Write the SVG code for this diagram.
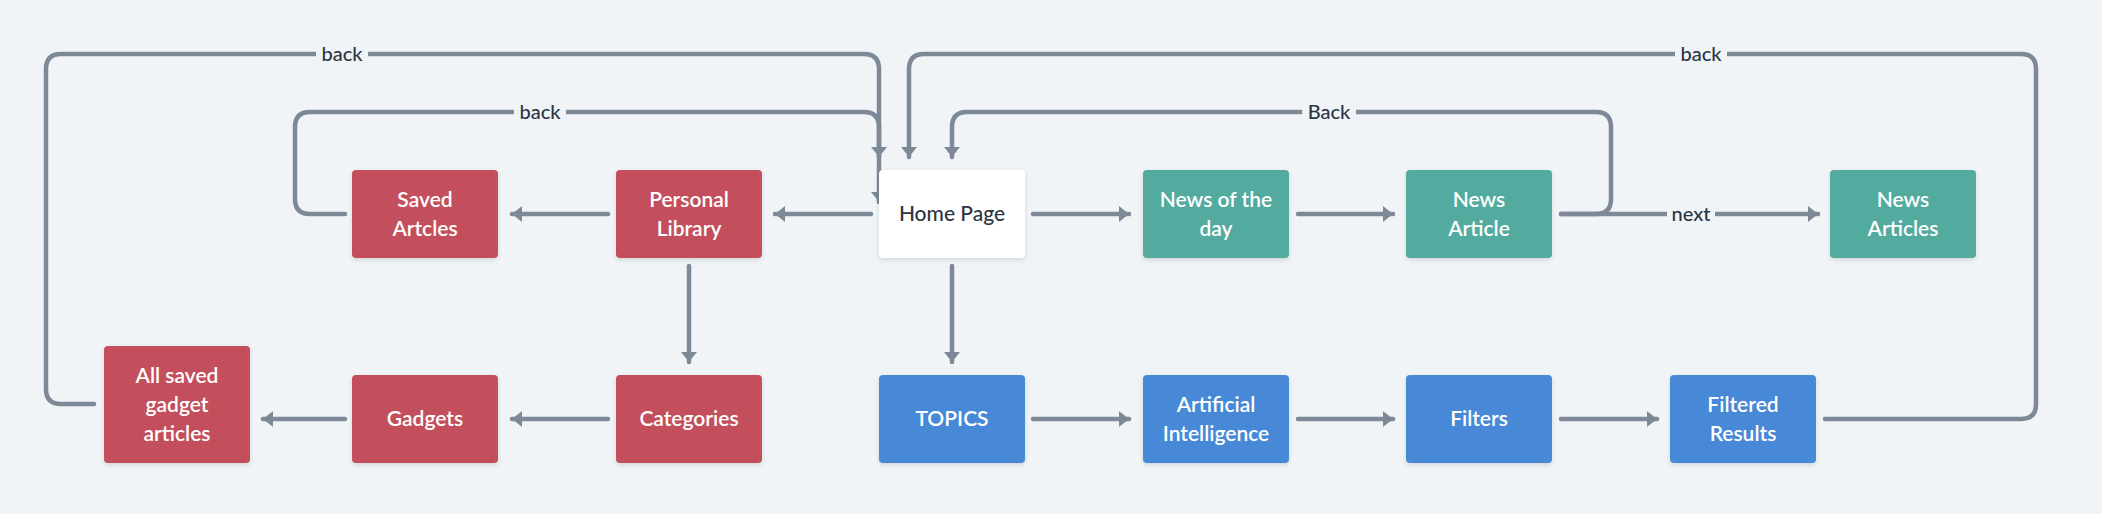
<svg xmlns="http://www.w3.org/2000/svg" width="2102" height="514" viewBox="0 0 2102 514">
<defs>
<style>
.bg{fill:#f0f4f7}
.node rect{stroke:none}
.red{fill:#c4505c}
.teal{fill:#52ab9f}
.blue{fill:#4689d6}
.white{fill:#ffffff}
.t{font-family:Lato,"Noto Sans","Liberation Sans",sans-serif;font-size:21px;font-weight:600;fill:#ffffff;text-anchor:middle}
.td{fill:#2b3544;font-weight:500}
.edge{fill:none;stroke:#7d8996;stroke-width:4.5;stroke-linecap:round;stroke-linejoin:round}
.arr{marker-end:url(#ah)}
.lbg{fill:#f0f4f7}
.lt{font-family:Lato,"Noto Sans","Liberation Sans",sans-serif;font-size:20px;font-weight:500;fill:#2b3544;text-anchor:middle}
</style>
<marker id="ah" markerUnits="userSpaceOnUse" markerWidth="12" markerHeight="18" refX="10" refY="8" orient="auto">
<path d="M0,0 L10,8 L0,16 z" fill="#7d8996"/>
</marker>
<filter id="sh" x="-10%" y="-10%" width="120%" height="130%">
<feDropShadow dx="0" dy="2" stdDeviation="2" flood-color="#000" flood-opacity="0.12"/>
</filter>
</defs>
<rect class="bg" x="0" y="0" width="2102" height="514"/>

<g id="connectors">
<path class="edge arr" d="M871,214 H775"/>
<path class="edge arr" d="M608,214 H512"/>
<path class="edge arr" d="M1033,214 H1129"/>
<path class="edge arr" d="M1298,214 H1393"/>
<path class="edge arr" d="M1561,214 H1818"/>
<path class="edge arr" d="M1561,214 H1596 Q1611,214 1611,199 V127 Q1611,112 1596,112 H967 Q952,112 952,127 V157"/>
<path class="edge arr" d="M1825,419 H2021 Q2036,419 2036,404 V69 Q2036,54 2021,54 H924 Q909,54 909,69 V157"/>
<path class="edge arr" d="M94,404 H61 Q46,404 46,389 V69 Q46,54 61,54 H864 Q879,54 879,69 V157"/>
<path class="edge arr" d="M345,214 H310 Q295,214 295,199 V127 Q295,112 310,112 H864 Q879,112 879,127 V202"/>
<path class="edge arr" d="M689,266 V362"/>
<path class="edge arr" d="M952,266 V362"/>
<path class="edge arr" d="M608,419 H512"/>
<path class="edge arr" d="M345,419 H263"/>
<path class="edge arr" d="M1033,419 H1129"/>
<path class="edge arr" d="M1298,419 H1393"/>
<path class="edge arr" d="M1561,419 H1657"/>
<rect class="lbg" x="316" y="42" width="52" height="24"/>
<text class="lt" x="342" y="61">back</text>
<rect class="lbg" x="514" y="100" width="52" height="24"/>
<text class="lt" x="540" y="119">back</text>
<rect class="lbg" x="1302" y="100" width="54" height="24"/>
<text class="lt" x="1329" y="119">Back</text>
<rect class="lbg" x="1675" y="42" width="52" height="24"/>
<text class="lt" x="1701" y="61">back</text>
<rect class="lbg" x="1667" y="202" width="48" height="24"/>
<text class="lt" x="1691" y="221">next</text>
</g>

<g id="home" class="node"><rect class="white" x="879" y="170" width="146" height="88" rx="4" filter="url(#sh)"/><text class="t td" x="952" y="221">Home Page</text></g>
<g id="personal-library" class="node"><rect class="red" x="616" y="170" width="146" height="88" rx="4" filter="url(#sh)"/><text class="t" x="689" y="206.5">Personal</text><text class="t" x="689" y="235.5">Library</text></g>
<g id="saved-articles" class="node"><rect class="red" x="352" y="170" width="146" height="88" rx="4" filter="url(#sh)"/><text class="t" x="425" y="206.5">Saved</text><text class="t" x="425" y="235.5">Artcles</text></g>
<g id="news-of-the-day" class="node"><rect class="teal" x="1143" y="170" width="146" height="88" rx="4" filter="url(#sh)"/><text class="t" x="1216" y="206.5">News of the</text><text class="t" x="1216" y="235.5">day</text></g>
<g id="news-article" class="node"><rect class="teal" x="1406" y="170" width="146" height="88" rx="4" filter="url(#sh)"/><text class="t" x="1479" y="206.5">News</text><text class="t" x="1479" y="235.5">Article</text></g>
<g id="news-articles" class="node"><rect class="teal" x="1830" y="170" width="146" height="88" rx="4" filter="url(#sh)"/><text class="t" x="1903" y="206.5">News</text><text class="t" x="1903" y="235.5">Articles</text></g>
<g id="all-saved" class="node"><rect class="red" x="104" y="346" width="146" height="117" rx="4" filter="url(#sh)"/><text class="t" x="177" y="382.5">All saved</text><text class="t" x="177" y="411.5">gadget</text><text class="t" x="177" y="440.5">articles</text></g>
<g id="gadgets" class="node"><rect class="red" x="352" y="375" width="146" height="88" rx="4" filter="url(#sh)"/><text class="t" x="425" y="426">Gadgets</text></g>
<g id="categories" class="node"><rect class="red" x="616" y="375" width="146" height="88" rx="4" filter="url(#sh)"/><text class="t" x="689" y="426">Categories</text></g>
<g id="topics" class="node"><rect class="blue" x="879" y="375" width="146" height="88" rx="4" filter="url(#sh)"/><text class="t" x="952" y="426">TOPICS</text></g>
<g id="ai" class="node"><rect class="blue" x="1143" y="375" width="146" height="88" rx="4" filter="url(#sh)"/><text class="t" x="1216" y="411.5">Artificial</text><text class="t" x="1216" y="440.5">Intelligence</text></g>
<g id="filters" class="node"><rect class="blue" x="1406" y="375" width="146" height="88" rx="4" filter="url(#sh)"/><text class="t" x="1479" y="426">Filters</text></g>
<g id="filtered-results" class="node"><rect class="blue" x="1670" y="375" width="146" height="88" rx="4" filter="url(#sh)"/><text class="t" x="1743" y="411.5">Filtered</text><text class="t" x="1743" y="440.5">Results</text></g>
</svg>
